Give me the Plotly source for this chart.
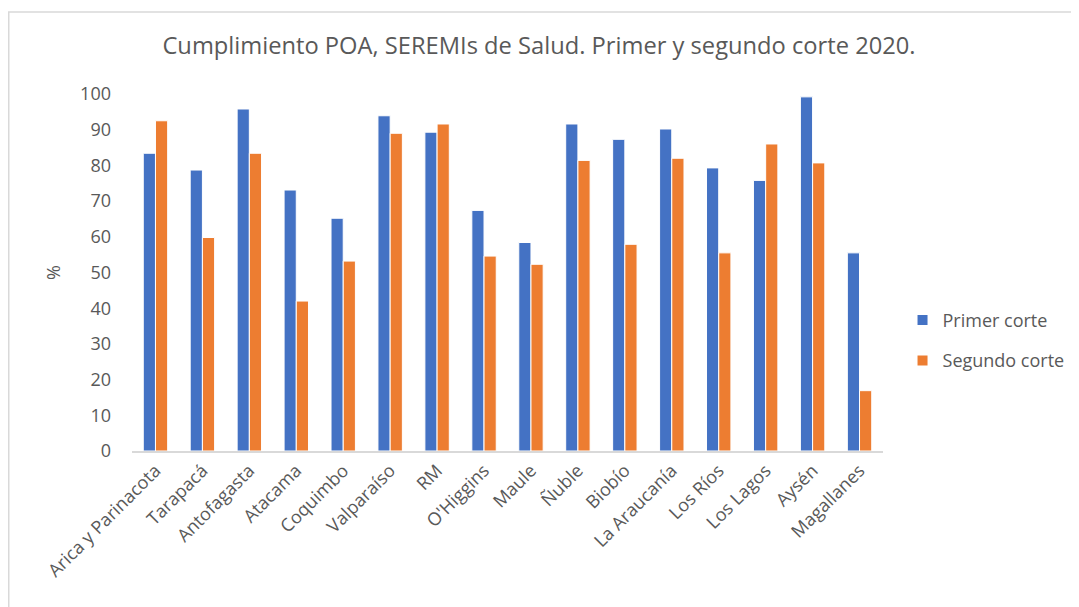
import plotly.graph_objects as go

regiones = ["Arica y Parinacota", "Tarapacá", "Antofagasta", "Atacama", "Coquimbo",
            "Valparaíso", "RM", "O'Higgins", "Maule", "Ñuble", "Biobío",
            "La Araucanía", "Los Ríos", "Los Lagos", "Aysén", "Magallanes"]
primer_corte = [83.4, 78.7, 95.8, 73.1, 65.2, 93.9, 89.3, 67.4, 58.4, 91.6, 87.3,
                90.2, 79.3, 75.8, 99.2, 55.5]
segundo_corte = [92.5, 59.8, 83.4, 42.0, 53.2, 89.0, 91.6, 54.6, 52.3, 81.4, 57.9,
                 82.0, 55.5, 86.0, 80.7, 16.9]
y_ticks = [0, 10, 20, 30, 40, 50, 60, 70, 80, 90, 100]

FONT = "Open Sans"
GREY = "#595959"

W, H = 1071, 599
L, R, T, B = 124, 196, 86, 156
PW, PH = W - L - R, H - T - B

fig = go.Figure()
fig.add_trace(go.Bar(name="Primer corte", x=regiones, y=primer_corte, legendgroup="a",
                     marker=dict(color="#4472C4", line=dict(color="white", width=1))))
fig.add_trace(go.Bar(name="Segundo corte", x=regiones, y=segundo_corte, legendgroup="b",
                     marker=dict(color="#ED7D31", line=dict(color="white", width=1))))

fig.update_layout(
    width=W, height=H,
    paper_bgcolor="white", plot_bgcolor="white",
    margin=dict(l=L, r=R, t=T, b=B, autoexpand=False),
    barmode="group", bargap=0.48, bargroupgap=0.0,
    title=dict(text="Cumplimiento POA, SEREMIs de Salud. Primer y segundo corte 2020.",
               x=531 / W, xref="container", xanchor="center", y=1 - 38 / H, yref="container",
               yanchor="middle",
               font=dict(family=FONT, size=23.7, color=GREY)),
    font=dict(family=FONT, size=18, color=GREY),
    legend=dict(x=1.026, y=0.31, xanchor="left", yanchor="middle",
                font=dict(family=FONT, size=18, color=GREY),
                itemsizing="constant", itemwidth=30, tracegroupgap=14,
                bgcolor="rgba(0,0,0,0)"),
    xaxis=dict(tickangle=-45, showgrid=False, showline=True, linecolor="#D9D9D9",
               linewidth=2, ticks="", tickfont=dict(family=FONT, size=18, color=GREY)),
    yaxis=dict(range=[0, 100], tickvals=y_ticks, showgrid=False, showline=False,
               zeroline=False, ticks="", ticklabelstandoff=20,
               title=dict(text="%", font=dict(family=FONT, size=18, color=GREY), standoff=14),
               tickfont=dict(family=FONT, size=18, color=GREY)),
    shapes=[dict(type="rect", xref="paper", yref="paper",
                 x0=(-L + 0.75) / PW, x1=1.5, y0=-1.0, y1=1 + (T - 4) / PH,
                 line=dict(color="#D9D9D9", width=1.5), fillcolor="rgba(0,0,0,0)",
                 layer="below")],
)

fig.write_html("out.html")
